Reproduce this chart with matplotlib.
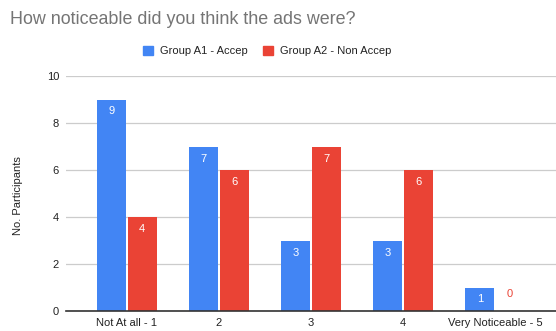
import matplotlib
matplotlib.use("Agg")
import matplotlib.pyplot as plt
import numpy as np

categories = ["Not At all - 1", "2", "3", "4", "Very Noticeable - 5"]
group_a1 = [9, 7, 3, 3, 1]
group_a2 = [4, 6, 7, 6, 0]
series_names = ["Group A1 - Accep", "Group A2 - Non Accep"]
y_ticks = [0, 2, 4, 6, 8, 10]

BLUE = "#4285F4"
RED = "#EA4335"

plt.rcParams["font.family"] = ["Liberation Sans", "DejaVu Sans"]

fig = plt.figure(figsize=(5.56, 3.31), dpi=100)
ax = fig.add_axes([66 / 556, 20 / 331, 490 / 556, 235 / 331])

x = np.arange(len(categories))
w = 0.315
gap = 0.006
b1 = ax.bar(x - w / 2 - gap, group_a1, width=w, color=BLUE, zorder=3)
b2 = ax.bar(x + w / 2 + gap, group_a2, width=w, color=RED, zorder=3)

# value labels just inside the top of each bar
px_per_unit = 235 / 10
for bars, vals, col in ((b1, group_a1, BLUE), (b2, group_a2, RED)):
    for rect, v in zip(bars, vals):
        cx = rect.get_x() + rect.get_width() / 2
        if v > 0:
            ax.text(cx, v - 12 / px_per_unit, str(v), ha="center", va="center",
                    color="white", fontsize=8, zorder=4)
        else:
            ax.text(cx, 17 / px_per_unit, str(v), ha="center", va="center",
                    color=col, fontsize=8, zorder=4)

ax.set_xlim(-0.663, 4.663)
ax.set_ylim(0, 10)
ax.set_yticks(y_ticks)
ax.set_xticks(x)
ax.set_xticklabels(categories)
ax.tick_params(axis="both", length=0, labelsize=8, colors="#222222")
ax.tick_params(axis="y", pad=5)
ax.tick_params(axis="x", pad=5)
ax.grid(axis="y", color="#cccccc", linewidth=0.9, zorder=0)
for s in ("top", "right", "left"):
    ax.spines[s].set_visible(False)
ax.spines["bottom"].set_color("#333333")
ax.spines["bottom"].set_linewidth(1.2)
ax.spines["bottom"].set_zorder(5)

ax.set_ylabel("No. Participants", fontsize=8, color="#222222")
ax.yaxis.set_label_coords(-43 / 490, 0.49)

fig.text(10 / 556, 1 - 20 / 331, "How noticeable did you think the ads were?",
         fontsize=12.9, color="#757575", va="center", ha="left")

# legend
handles = [plt.Rectangle((0, 0), 1, 1, color=BLUE), plt.Rectangle((0, 0), 1, 1, color=RED)]
fig.legend(handles, series_names, loc="center", bbox_to_anchor=(267 / 556, 1 - 51 / 331),
           ncol=2, frameon=False, fontsize=8, handlelength=0.9, handleheight=0.9,
           handletextpad=0.6, columnspacing=1.4, labelcolor="#222222")

fig.savefig("out.png", dpi=100)
